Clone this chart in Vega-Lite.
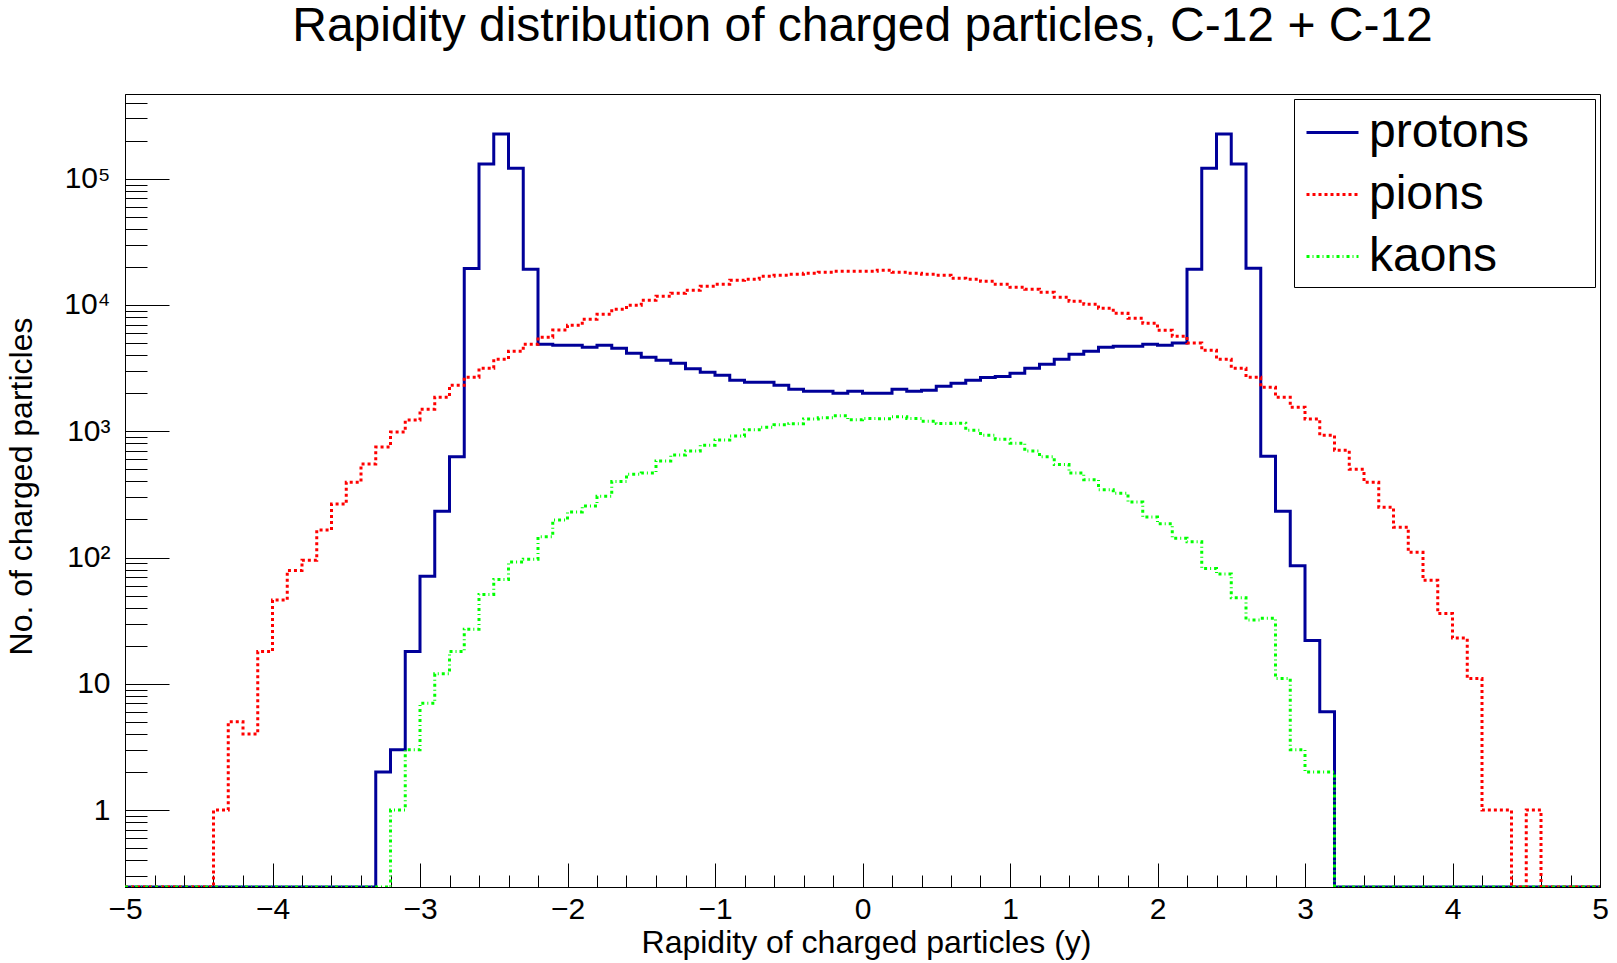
{
  "$schema": "https://vega.github.io/schema/vega-lite/v6.json",
  "width": 1475,
  "height": 793,
  "autosize": {"type": "none"},
  "padding": {"left": 125, "top": 94, "right": 17, "bottom": 76},
  "background": "white",
  "title": {
    "text": "Rapidity distribution of charged particles, C-12 + C-12",
    "fontSize": 48, "font": "Liberation Sans", "fontWeight": "normal", "color": "black",
    "anchor": "middle", "baseline": "bottom", "offset": -11, "frame": "group"
  },
  "config": {
    "view": {"stroke": "black", "strokeWidth": 1},
    "font": "Liberation Sans",
    "legend": {
      "fillColor": "white", "strokeColor": "black", "strokeWidth": 1, "padding": 6, "cornerRadius": 0,
      "symbolType": "stroke", "symbolSize": 2704, "symbolStrokeWidth": 3, "symbolOffset": 5,
      "labelFontSize": 48, "labelFont": "Liberation Sans", "labelColor": "black", "labelOffset": 9,
      "labelLimit": 600, "rowPadding": 10,
      "titleOrient": "right", "titleFontSize": 2, "titlePadding": 60, "titleColor": "white"
    }
  },
  "data": {"values": [
    {"x": -5, "protons": 0, "pions": 0, "kaons": 0},
    {"x": -4.9, "protons": 0, "pions": 0, "kaons": 0},
    {"x": -4.8, "protons": 0, "pions": 0, "kaons": 0},
    {"x": -4.7, "protons": 0, "pions": 0, "kaons": 0},
    {"x": -4.6, "protons": 0, "pions": 0, "kaons": 0},
    {"x": -4.5, "protons": 0, "pions": 0, "kaons": 0},
    {"x": -4.4, "protons": 0, "pions": 1, "kaons": 0},
    {"x": -4.3, "protons": 0, "pions": 5, "kaons": 0},
    {"x": -4.2, "protons": 0, "pions": 4, "kaons": 0},
    {"x": -4.1, "protons": 0, "pions": 18, "kaons": 0},
    {"x": -4, "protons": 0, "pions": 46, "kaons": 0},
    {"x": -3.9, "protons": 0, "pions": 79, "kaons": 0},
    {"x": -3.8, "protons": 0, "pions": 95, "kaons": 0},
    {"x": -3.7, "protons": 0, "pions": 165, "kaons": 0},
    {"x": -3.6, "protons": 0, "pions": 265, "kaons": 0},
    {"x": -3.5, "protons": 0, "pions": 395, "kaons": 0},
    {"x": -3.4, "protons": 0, "pions": 550, "kaons": 0},
    {"x": -3.3, "protons": 2, "pions": 750, "kaons": 0},
    {"x": -3.2, "protons": 3, "pions": 985, "kaons": 1},
    {"x": -3.1, "protons": 18, "pions": 1225, "kaons": 3},
    {"x": -3, "protons": 71, "pions": 1497, "kaons": 7},
    {"x": -2.9, "protons": 232, "pions": 1862, "kaons": 12},
    {"x": -2.8, "protons": 627, "pions": 2317, "kaons": 18},
    {"x": -2.7, "protons": 19500, "pions": 2682, "kaons": 27},
    {"x": -2.6, "protons": 131000, "pions": 3160, "kaons": 51},
    {"x": -2.5, "protons": 226000, "pions": 3724, "kaons": 67},
    {"x": -2.4, "protons": 121000, "pions": 4310, "kaons": 92},
    {"x": -2.3, "protons": 19200, "pions": 4890, "kaons": 97},
    {"x": -2.2, "protons": 4890, "pions": 5560, "kaons": 146},
    {"x": -2.1, "protons": 4790, "pions": 6350, "kaons": 198},
    {"x": -2, "protons": 4790, "pions": 6920, "kaons": 229},
    {"x": -1.9, "protons": 4630, "pions": 7720, "kaons": 256},
    {"x": -1.8, "protons": 4790, "pions": 8460, "kaons": 306},
    {"x": -1.7, "protons": 4550, "pions": 9260, "kaons": 400},
    {"x": -1.6, "protons": 4150, "pions": 9960, "kaons": 457},
    {"x": -1.5, "protons": 3860, "pions": 10900, "kaons": 468},
    {"x": -1.4, "protons": 3656, "pions": 11740, "kaons": 580},
    {"x": -1.3, "protons": 3460, "pions": 12400, "kaons": 647},
    {"x": -1.2, "protons": 3120, "pions": 13090, "kaons": 696},
    {"x": -1.1, "protons": 2937, "pions": 14090, "kaons": 776},
    {"x": -1, "protons": 2780, "pions": 14610, "kaons": 851},
    {"x": -0.9, "protons": 2540, "pions": 15720, "kaons": 915},
    {"x": -0.8, "protons": 2448, "pions": 16010, "kaons": 1026},
    {"x": -0.7, "protons": 2448, "pions": 16900, "kaons": 1077},
    {"x": -0.6, "protons": 2317, "pions": 17220, "kaons": 1124},
    {"x": -0.5, "protons": 2154, "pions": 17530, "kaons": 1145},
    {"x": -0.4, "protons": 2078, "pions": 17860, "kaons": 1248},
    {"x": -0.3, "protons": 2078, "pions": 18190, "kaons": 1277},
    {"x": -0.2, "protons": 2004, "pions": 18530, "kaons": 1325},
    {"x": -0.1, "protons": 2078, "pions": 18530, "kaons": 1231},
    {"x": 0, "protons": 2004, "pions": 18530, "kaons": 1263},
    {"x": 0.1, "protons": 2004, "pions": 18870, "kaons": 1254},
    {"x": 0.2, "protons": 2154, "pions": 18190, "kaons": 1300},
    {"x": 0.3, "protons": 2078, "pions": 17860, "kaons": 1263},
    {"x": 0.4, "protons": 2115, "pions": 17530, "kaons": 1202},
    {"x": 0.5, "protons": 2275, "pions": 17220, "kaons": 1151},
    {"x": 0.6, "protons": 2404, "pions": 16300, "kaons": 1155},
    {"x": 0.7, "protons": 2540, "pions": 16010, "kaons": 1020},
    {"x": 0.8, "protons": 2661, "pions": 15430, "kaons": 931},
    {"x": 0.9, "protons": 2710, "pions": 14610, "kaons": 866},
    {"x": 1, "protons": 2884, "pions": 13830, "kaons": 805},
    {"x": 1.1, "protons": 3160, "pions": 13330, "kaons": 696},
    {"x": 1.2, "protons": 3400, "pions": 12620, "kaons": 627},
    {"x": 1.3, "protons": 3724, "pions": 11530, "kaons": 545},
    {"x": 1.4, "protons": 4080, "pions": 10710, "kaons": 466},
    {"x": 1.5, "protons": 4310, "pions": 10140, "kaons": 412},
    {"x": 1.6, "protons": 4630, "pions": 9430, "kaons": 344},
    {"x": 1.7, "protons": 4720, "pions": 8610, "kaons": 323},
    {"x": 1.8, "protons": 4720, "pions": 7860, "kaons": 275},
    {"x": 1.9, "protons": 4890, "pions": 7170, "kaons": 209},
    {"x": 2, "protons": 4790, "pions": 6315, "kaons": 185},
    {"x": 2.1, "protons": 4990, "pions": 5660, "kaons": 142},
    {"x": 2.2, "protons": 19200, "pions": 4990, "kaons": 133},
    {"x": 2.3, "protons": 121000, "pions": 4385, "kaons": 82},
    {"x": 2.4, "protons": 226000, "pions": 3724, "kaons": 74},
    {"x": 2.5, "protons": 131000, "pions": 3160, "kaons": 48},
    {"x": 2.6, "protons": 19550, "pions": 2682, "kaons": 32},
    {"x": 2.7, "protons": 635, "pions": 2235, "kaons": 33},
    {"x": 2.8, "protons": 232, "pions": 1862, "kaons": 11},
    {"x": 2.9, "protons": 86, "pions": 1552, "kaons": 3},
    {"x": 3, "protons": 22, "pions": 1250, "kaons": 2},
    {"x": 3.1, "protons": 6, "pions": 931, "kaons": 2},
    {"x": 3.2, "protons": 0, "pions": 708, "kaons": 0},
    {"x": 3.3, "protons": 0, "pions": 501, "kaons": 0},
    {"x": 3.4, "protons": 0, "pions": 395, "kaons": 0},
    {"x": 3.5, "protons": 0, "pions": 250, "kaons": 0},
    {"x": 3.6, "protons": 0, "pions": 174, "kaons": 0},
    {"x": 3.7, "protons": 0, "pions": 110, "kaons": 0},
    {"x": 3.8, "protons": 0, "pions": 66, "kaons": 0},
    {"x": 3.9, "protons": 0, "pions": 36, "kaons": 0},
    {"x": 4, "protons": 0, "pions": 23, "kaons": 0},
    {"x": 4.1, "protons": 0, "pions": 11, "kaons": 0},
    {"x": 4.2, "protons": 0, "pions": 1, "kaons": 0},
    {"x": 4.3, "protons": 0, "pions": 1, "kaons": 0},
    {"x": 4.4, "protons": 0, "pions": 0, "kaons": 0},
    {"x": 4.5, "protons": 0, "pions": 1, "kaons": 0},
    {"x": 4.6, "protons": 0, "pions": 0, "kaons": 0},
    {"x": 4.7, "protons": 0, "pions": 0, "kaons": 0},
    {"x": 4.8, "protons": 0, "pions": 0, "kaons": 0},
    {"x": 4.9, "protons": 0, "pions": 0, "kaons": 0},
    {"x": 5, "protons": 0, "pions": 0, "kaons": 0}
  ]},
  "transform": [{"fold": ["protons", "pions", "kaons"], "as": ["series", "n"]}],
  "mark": {"type": "line", "interpolate": "step-after", "strokeWidth": 3, "clip": true},
  "encoding": {
    "x": {
      "field": "x", "type": "quantitative",
      "scale": {"domain": [-5, 5], "nice": false, "zero": false},
      "axis": {
        "values": [-5,-4.8,-4.6,-4.4,-4.2,-4,-3.8,-3.6,-3.4,-3.2,-3,-2.8,-2.6,-2.4,-2.2,-2,-1.8,-1.6,-1.4,-1.2,-1,-0.8,-0.6,-0.4,-0.2,0,0.2,0.4,0.6,0.8,1,1.2,1.4,1.6,1.8,2,2.2,2.4,2.6,2.8,3,3.2,3.4,3.6,3.8,4,4.2,4.4,4.6,4.8,5],
        "labelExpr": "abs(datum.value - round(datum.value)) < 0.001 ? format(round(datum.value), 'd') : ''",
        "tickSize": {"condition": {"test": "abs(datum.value - round(datum.value)) < 0.001", "value": -24}, "value": -12},
        "labelPadding": 31, "labelFlush": false, "labelOverlap": false,
        "labelFontSize": 30, "labelFont": "Liberation Sans", "labelColor": "black",
        "tickColor": "black", "tickWidth": 1, "domainColor": "black", "domainWidth": 1, "grid": false,
        "title": "Rapidity of charged particles (y)", "titleFontSize": 32, "titleFont": "Liberation Sans",
        "titleFontWeight": "normal", "titleColor": "black",
        "titleX": 741, "titleY": 65, "titleBaseline": "alphabetic", "titleAlign": "center", "titleAnchor": null
      }
    },
    "y": {
      "field": "n", "type": "quantitative",
      "scale": {"type": "log", "domain": [0.2456, 469000], "clamp": true, "nice": false},
      "axis": {
        "values": [0.3,0.4,0.5,0.6,0.7,0.8,0.9,1,2,3,4,5,6,7,8,9,10,20,30,40,50,60,70,80,90,100,200,300,400,500,600,700,800,900,1000,2000,3000,4000,5000,6000,7000,8000,9000,10000,20000,30000,40000,50000,60000,70000,80000,90000,100000,200000,300000,400000],
        "labelExpr": "datum.value == 1 ? '1' : datum.value == 10 ? '10' : datum.value == 100 ? '10²' : datum.value == 1000 ? '10³' : datum.value == 10000 ? '10⁴' : datum.value == 100000 ? '10⁵' : ''",
        "tickSize": {"condition": {"test": "abs(log(datum.value)/LN10 - round(log(datum.value)/LN10)) < 0.001", "value": -44}, "value": -22},
        "labelPadding": 59, "labelOverlap": false,
        "labelFontSize": 30, "labelFont": "Liberation Sans", "labelColor": "black",
        "tickColor": "black", "tickWidth": 1, "domainColor": "black", "domainWidth": 1, "grid": false,
        "title": "No. of charged particles", "titleFontSize": 32, "titleFont": "Liberation Sans",
        "titleFontWeight": "normal", "titleColor": "black",
        "titleX": -94, "titleY": 392, "titleAngle": -90, "titleBaseline": "alphabetic", "titleAlign": "center", "titleAnchor": null
      }
    },
    "color": {
      "field": "series", "type": "nominal",
      "scale": {"domain": ["protons", "pions", "kaons"], "range": ["#000099", "#ff0000", "#00ff00"]},
      "legend": {"title": "\u00a0", "orient": "none", "legendX": 1169, "legendY": 5}
    },
    "strokeDash": {
      "field": "series", "type": "nominal",
      "scale": {"domain": ["protons", "pions", "kaons"], "range": [[1, 0], [3, 3], [3, 3, 1, 3]]},
      "legend": {"title": "\u00a0", "orient": "none", "legendX": 1169, "legendY": 5}
    }
  }
}
